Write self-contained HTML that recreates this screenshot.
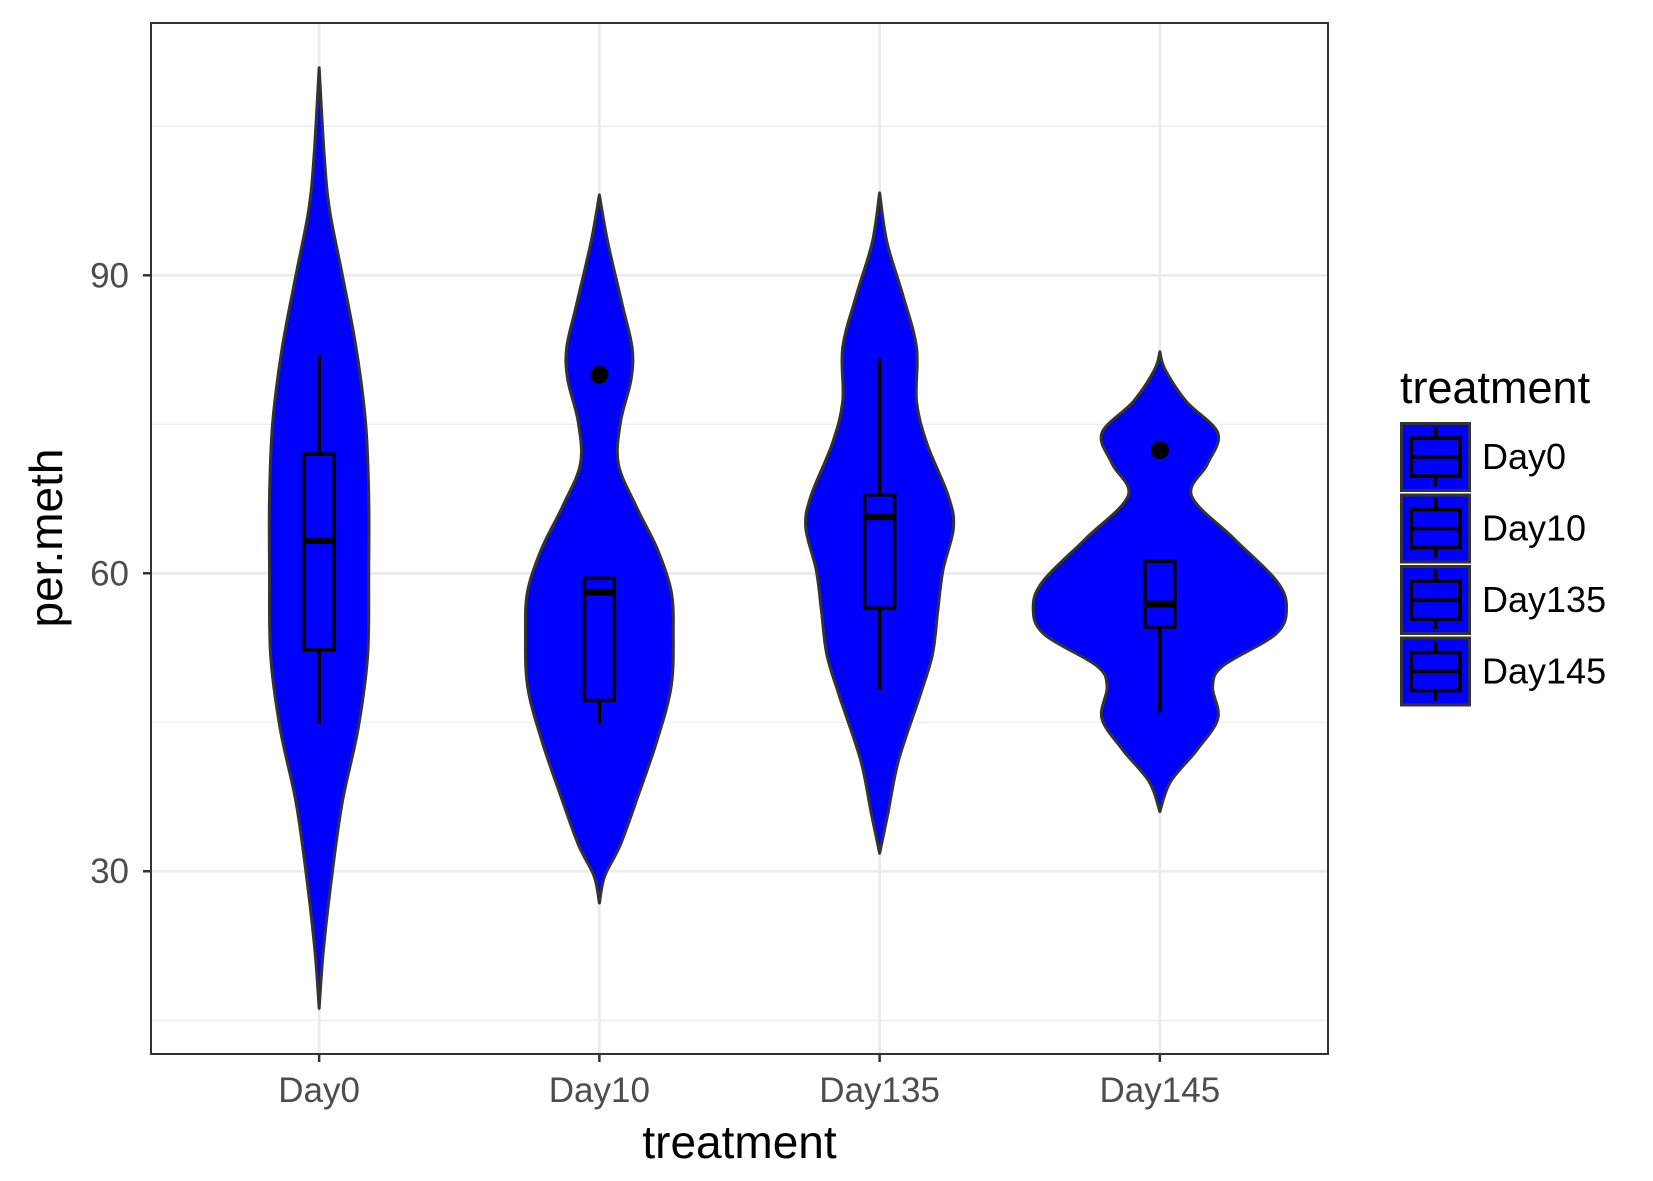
<!DOCTYPE html>
<html><head><meta charset="utf-8">
<style>
html,body{margin:0;padding:0;background:#fff;}
svg{display:block;font-family:"Liberation Sans",sans-serif;}
</style></head>
<body>
<svg id="chart" width="1653" height="1181" viewBox="0 0 1653 1181"></svg>
<script>
const categories = ["Day0","Day10","Day135","Day145"];
const yTicks = [30,60,90];
const yMinor = [15,45,75,105];
// violin profiles: y values (top to bottom) and half-widths (relative units)
const v0y = [110.9,101.8,96.5,90,82.7,75.2,67.8,60.3,51.8,44.4,37,29.5,22,16.2];
const v0w = [0,5,10,22,35,44,47,47,46,37,22,12,4,0];
const v1y = [98.1,93.3,86.9,82.7,79.5,75.2,71,66.7,62.4,58.2,53.9,48.6,43.3,38,32.7,29.5,26.8];
const v1w = [0,8,22,31,30,20,18,35,55,68,70,68,55,38,20,5,0];
const v2y = [98.3,93.3,88,82.7,77.3,73,67.8,64.6,60.3,56.1,51.8,47.6,41.2,35.9,31.8];
const v2w = [0,7,22,35,35,45,65,70,60,55,50,38,18,8,0];
const v3y = [82.3,80.5,77.3,74.1,71,67.8,63.5,59.3,56.6,53.9,50.7,48.6,45.4,42.2,39,36];
const v3w = [0,5,25,55,45,30,70,110,120,110,60,50,55,35,10,0];
// boxplot stats
const boxLow = [44.9,44.9,48.3,46];
const boxQ1 = [52.3,47.2,56.5,54.6];
const boxMed = [63.3,58.1,65.7,56.9];
const boxQ3 = [72,59.5,67.9,61.2];
const boxHigh = [81.9,59.5,81.6,61.2];
const outlierCat = [1,3];
const outlierVal = [80,72.4];

const NS="http://www.w3.org/2000/svg";
const svg=document.getElementById('chart');
const P={l:151,r:1328,t:23,b:1054};
const yMinV=11.6,yMaxV=115.4;
function ys(v){return P.t+(yMaxV-v)/(yMaxV-yMinV)*(P.b-P.t);}
const band=(P.r-P.l)/4.2;
function xs(i){return P.l+(i+0.6)*band;}
const wScale=1.0555;
function el(tag,attrs,parent){const e=document.createElementNS(NS,tag);for(const k in attrs)e.setAttribute(k,attrs[k]);(parent||svg).appendChild(e);return e;}

el('rect',{x:P.l,y:P.t,width:P.r-P.l,height:P.b-P.t,fill:'#fff'});
const grid=el('g',{});


yMinor.forEach(v=>el('line',{x1:P.l,x2:P.r,y1:ys(v),y2:ys(v),stroke:'#ebebeb','stroke-width':1.3},grid));
yTicks.forEach(v=>el('line',{x1:P.l,x2:P.r,y1:ys(v),y2:ys(v),stroke:'#ebebeb','stroke-width':2.8},grid));
categories.forEach((c,i)=>el('line',{x1:xs(i),x2:xs(i),y1:P.t,y2:P.b,stroke:'#ebebeb','stroke-width':2.8},grid));

function smoothPath(pts){
  let d='M'+pts[0][0]+','+pts[0][1];
  for(let i=0;i<pts.length-1;i++){
    const p0=pts[Math.max(0,i-1)],p1=pts[i],p2=pts[i+1],p3=pts[Math.min(pts.length-1,i+2)];
    const c1=[p1[0]+(p2[0]-p0[0])/6,p1[1]+(p2[1]-p0[1])/6];
    const c2=[p2[0]-(p3[0]-p1[0])/6,p2[1]-(p3[1]-p1[1])/6];
    d+=' C'+c1[0]+','+c1[1]+' '+c2[0]+','+c2[1]+' '+p2[0]+','+p2[1];
  }
  return d;
}
const vy=[v0y,v1y,v2y,v3y], vw=[v0w,v1w,v2w,v3w];
categories.forEach((c,i)=>{
  const cx=xs(i);
  const right=vy[i].map((v,k)=>[cx+vw[i][k]*wScale,ys(v)]);
  const left=vy[i].map((v,k)=>[cx-vw[i][k]*wScale,ys(v)]).reverse();
  const d=smoothPath(right)+' L'+smoothPath(left).slice(1)+' Z';
  const p=el('path',{d:d,fill:'#0000ff',stroke:'#333','stroke-width':3,'stroke-linejoin':'round'});
  
  
  const g=el('g',{stroke:'#000','stroke-width':3.5,fill:'none'});
  
  
  const hw=15;
  el('line',{x1:cx,x2:cx,y1:ys(boxHigh[i]),y2:ys(boxQ3[i])},g);
  el('line',{x1:cx,x2:cx,y1:ys(boxQ1[i]),y2:ys(boxLow[i])},g);
  el('rect',{x:cx-hw,y:ys(boxQ3[i]),width:2*hw,height:ys(boxQ1[i])-ys(boxQ3[i])},g);
  el('line',{x1:cx-hw,x2:cx+hw,y1:ys(boxMed[i]),y2:ys(boxMed[i]),'stroke-width':7},g);
});
outlierCat.forEach((ci,k)=>{
  const o=el('circle',{cx:xs(ci),cy:ys(outlierVal[k]),r:9,fill:'#000'});
  
  
});
const frame=el('rect',{x:P.l,y:P.t,width:P.r-P.l,height:P.b-P.t,fill:'none',stroke:'#333','stroke-width':2});



yTicks.forEach(v=>{
  el('line',{x1:P.l-8,x2:P.l,y1:ys(v),y2:ys(v),stroke:'#333','stroke-width':2.5});
  const t=el('text',{x:P.l-22,y:ys(v)+12,'text-anchor':'end','font-size':35,fill:'#4d4d4d'});
  t.textContent=v;
  
  
});
categories.forEach((c,i)=>{
  el('line',{x1:xs(i),x2:xs(i),y1:P.b,y2:P.b+8,stroke:'#333','stroke-width':2.5});
  const t=el('text',{x:xs(i),y:P.b+48,'text-anchor':'middle','font-size':35,fill:'#4d4d4d'});
  t.textContent=c;
  
  
});
const xt=el('text',{x:(P.l+P.r)/2,y:1158,'text-anchor':'middle','font-size':46,fill:'#000'});
xt.textContent='treatment';


const yt=el('text',{x:0,y:0,'text-anchor':'middle','font-size':46,fill:'#000',transform:'translate(62,538) rotate(-90)'});
yt.textContent='per.meth';



const lg=el('g',{});


const lt=el('text',{x:1400,y:403,'font-size':45,fill:'#000'},lg);
lt.textContent='treatment';


categories.forEach((c,i)=>{
  const top=422+i*71.5;
  const kg=el('g',{},lg);
  
  
  el('rect',{x:1401.5,y:top+1.5,width:68,height:67,fill:'#0000ff',stroke:'#333','stroke-width':3},kg);
  el('line',{x1:1435.5,x2:1435.5,y1:top+5,y2:top+64,stroke:'#000','stroke-width':3.5},kg);
  el('rect',{x:1411,y:top+16,width:49,height:38,fill:'#0000ff',stroke:'#000','stroke-width':3.5},kg);
  el('line',{x1:1411,x2:1460,y1:top+35,y2:top+35,stroke:'#000','stroke-width':3.5},kg);
  const t=el('text',{x:1482,y:top+47,'font-size':36,fill:'#000'},kg);
  t.textContent=c;
});
</script>
</body></html>
